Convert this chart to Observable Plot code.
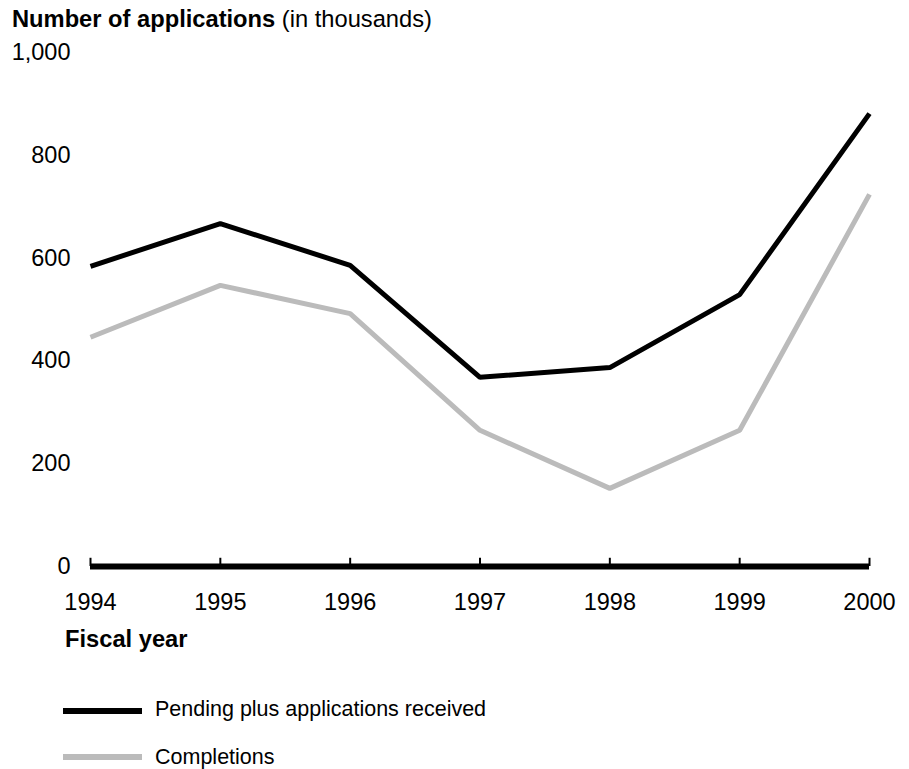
<!DOCTYPE html>
<html>
<head>
<meta charset="utf-8">
<script src="https://cdn.jsdelivr.net/npm/d3@7"></script>
<script src="https://cdn.jsdelivr.net/npm/@observablehq/plot@0.6"></script>
<style>
  html, body { margin: 0; padding: 0; background: #fff; }
  body { width: 909px; height: 769px; position: relative; overflow: hidden;
         font-family: "Liberation Sans", Arial, Helvetica, sans-serif; color: #000; }
  .abs { position: absolute; white-space: nowrap; }
  #title { left: 12px; top: 7px; font-size: 23.7px; line-height: 24px; }
  #xlabel { left: 65px; top: 627px; font-size: 23.7px; line-height: 24px; font-weight: bold; }
  .swatch { position: absolute; left: 63px; width: 79px; height: 6px; }
  .legtext { position: absolute; left: 155px; font-size: 21.5px; line-height: 22px; }
  #chart { position: absolute; left: 0; top: 0; }
</style>
</head>
<body>
<div id="title" class="abs"><b>Number of applications</b> (in thousands)</div>
<div id="chart"></div>
<div id="xlabel" class="abs">Fiscal year</div>
<div class="swatch" style="top:708px;background:#000"></div>
<div class="legtext" style="top:698px">Pending plus applications received</div>
<div class="swatch" style="top:754px;background:#bbbbbb"></div>
<div class="legtext" style="top:746px">Completions</div>
<script>
const years = [1994, 1995, 1996, 1997, 1998, 1999, 2000];
const pending = [584, 667, 586, 368, 387, 529, 881];
const completions = [446, 547, 492, 265, 152, 265, 724];
const yTicks = [0, 200, 400, 600, 800, 1000];
const seriesNames = ["Pending plus applications received", "Completions"];
const seriesColors = ["#000000", "#bbbbbb"];

const data = [
  ...years.map((y, i) => ({year: y, value: pending[i], series: seriesNames[0]})),
  ...years.map((y, i) => ({year: y, value: completions[i], series: seriesNames[1]}))
];

const chart = Plot.plot({
  width: 909,
  height: 620,
  marginLeft: 90,
  marginRight: 40,
  marginTop: 52,
  marginBottom: 54,
  style: {fontFamily: "Liberation Sans, Arial, sans-serif", fontSize: "24px", color: "#000", background: "transparent"},
  x: {domain: [1994, 2000]},
  y: {domain: [0, 1000]},
  color: {domain: seriesNames, range: seriesColors},
  marks: [
    Plot.axisY({ticks: yTicks, tickFormat: d3.format(","), tickSize: 0, tickPadding: 20, fontSize: 23.5, label: null}),
    Plot.axisX({ticks: years, tickFormat: d => String(d), tickSize: 0, tickPadding: 27, fontSize: 23.5, label: null}),
    Plot.line(data.filter(d => d.series === seriesNames[1]), {x: "year", y: "value", stroke: "series", strokeWidth: 5, strokeLinecap: "butt", strokeLinejoin: "miter"}),
    Plot.line(data.filter(d => d.series === seriesNames[0]), {x: "year", y: "value", stroke: "series", strokeWidth: 5, strokeLinecap: "butt", strokeLinejoin: "miter"}),
    Plot.ruleX(years, {x: d => d, y1: 0, y2: 16, stroke: "#000", strokeWidth: 2}),
    Plot.ruleY([0], {stroke: "#000", strokeWidth: 6})
  ]
});
document.getElementById("chart").appendChild(chart);
</script>
</body>
</html>
